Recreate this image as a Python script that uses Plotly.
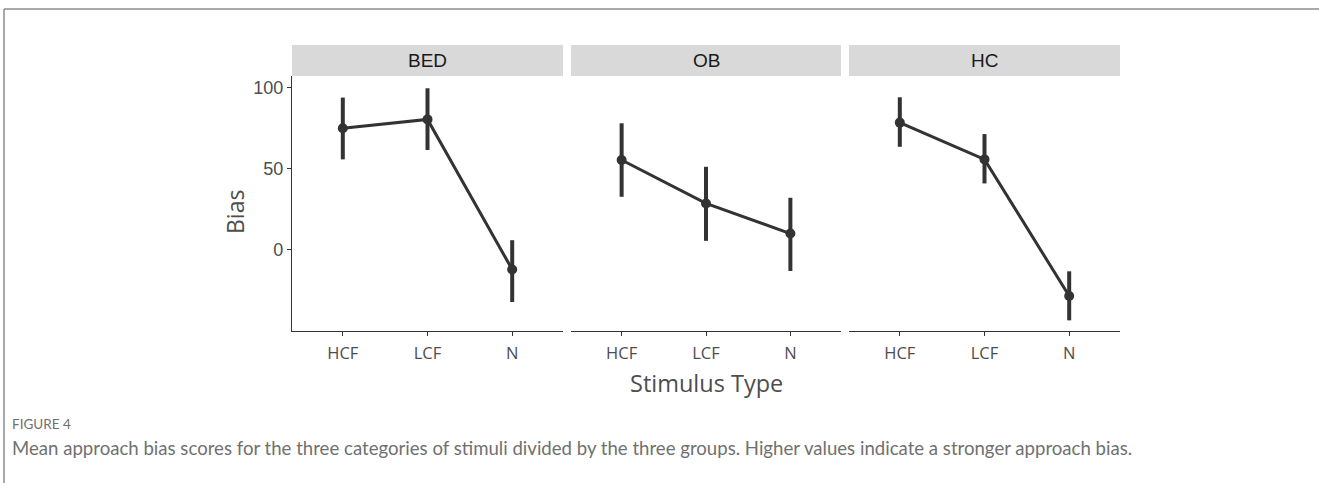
import plotly.graph_objects as go

W, H = 1319, 483

groups = ["BED", "OB", "HC"]
stimuli = ["HCF", "LCF", "N"]
means = {
    "BED": [75.0, 80.5, -12.6],
    "OB": [55.3, 28.4, 9.7],
    "HC": [78.5, 55.7, -29.0],
}
upper = {
    "BED": [94.0, 99.8, 5.6],
    "OB": [78.1, 51.1, 31.9],
    "HC": [94.2, 71.4, -13.7],
}
lower = {
    "BED": [55.7, 61.5, -32.7],
    "OB": [32.5, 5.2, -13.5],
    "HC": [63.5, 40.8, -44.1],
}
y_ticks = [0, 50, 100]

def px_x(p):
    return p / W

def px_y(p):
    return 1 - p / H

panel_px = [(292, 563), (571, 841), (849, 1120)]
plot_top, plot_bot = 76, 331
strip_top = 45

fig = go.Figure()
ink = "#333333"
for i, g in enumerate(groups):
    m = means[g]
    fig.add_trace(go.Scatter(
        x=stimuli, y=m,
        mode="lines+markers",
        line=dict(color=ink, width=3),
        marker=dict(color=ink, size=10),
        error_y=dict(type="data", symmetric=False,
                     array=[u - v for u, v in zip(upper[g], m)],
                     arrayminus=[v - l for v, l in zip(m, lower[g])],
                     color=ink, thickness=4, width=0),
        xaxis="x" if i == 0 else f"x{i+1}",
        yaxis="y" if i == 0 else f"y{i+1}",
        showlegend=False,
    ))

layout = dict(
    width=W, height=H,
    margin=dict(l=0, r=0, t=0, b=0),
    paper_bgcolor="white", plot_bgcolor="white",
    showlegend=False,
)
for i, (a, b) in enumerate(panel_px):
    xk = "xaxis" if i == 0 else f"xaxis{i+1}"
    yk = "yaxis" if i == 0 else f"yaxis{i+1}"
    layout[xk] = dict(
        domain=[px_x(a), px_x(b)],
        anchor="y" if i == 0 else f"y{i+1}",
        type="category", categoryorder="array", categoryarray=stimuli,
        range=[-0.6, 2.6],
        showline=True, linecolor=ink, linewidth=1.3,
        ticks="outside", ticklen=4, tickcolor=ink, tickwidth=1,
        ticklabelstandoff=3,
        showgrid=False, zeroline=False,
        tickfont=dict(family="Open Sans", size=16.5, color="#4d4d4d"),
        fixedrange=True,
    )
    layout[yk] = dict(
        domain=[px_y(plot_bot), px_y(plot_top)],
        anchor="x" if i == 0 else f"x{i+1}",
        range=[-50.7, 107.4],
        tickvals=y_ticks,
        showgrid=False, zeroline=False,
        showline=(i == 0), linecolor=ink, linewidth=1.3,
        ticks="outside" if i == 0 else "", ticklen=4, tickcolor=ink,
        showticklabels=(i == 0),
        tickfont=dict(family="Liberation Sans", size=18, color="#4d4d4d"),
        fixedrange=True,
    )
    if i > 0:
        layout[yk]["matches"] = "y"

fig.update_layout(**layout)

shapes = []
annotations = []
for (a, b), g in zip(panel_px, groups):
    shapes.append(dict(type="rect", xref="paper", yref="paper",
                       x0=px_x(a), x1=px_x(b), y0=px_y(plot_top), y1=px_y(strip_top),
                       fillcolor="#d9d9d9", line=dict(width=0), layer="below"))
    annotations.append(dict(text=g, xref="paper", yref="paper",
                            x=px_x((a + b) / 2), y=px_y((plot_top + strip_top) / 2),
                            showarrow=False, xanchor="center", yanchor="middle",
                            font=dict(family="Liberation Sans", size=19, color="#1a1a1a")))

# frame
shapes.append(dict(type="line", xref="paper", yref="paper",
                   x0=px_x(4), x1=1, y0=px_y(9), y1=px_y(9),
                   line=dict(color="#8c8c8c", width=1.5)))
shapes.append(dict(type="line", xref="paper", yref="paper",
                   x0=px_x(4), x1=px_x(4), y0=px_y(9), y1=0,
                   line=dict(color="#8c8c8c", width=1.5)))

annotations += [
    dict(text="Stimulus Type", xref="paper", yref="paper",
         x=px_x(706), y=px_y(383), showarrow=False, xanchor="center", yanchor="middle",
         font=dict(family="Open Sans", size=23.5, color="#4d4d4d")),
    dict(text="Bias", xref="paper", yref="paper", textangle=-90,
         x=px_x(235), y=px_y(212), showarrow=False, xanchor="center", yanchor="middle",
         font=dict(family="Open Sans", size=23, color="#4d4d4d")),
    dict(text="FIGURE 4", xref="paper", yref="paper",
         x=px_x(10), y=px_y(424), showarrow=False, xanchor="left", yanchor="middle",
         font=dict(family="Lato", size=13.5, color="#707070")),
    dict(text="Mean approach bias scores for the three categories of stimuli divided by the three groups. Higher values indicate a stronger approach bias.",
         xref="paper", yref="paper",
         x=px_x(10), y=px_y(448), showarrow=False, xanchor="left", yanchor="middle",
         font=dict(family="Lato", size=18.6, color="#707070")),
]
fig.update_layout(shapes=shapes, annotations=annotations)

fig.write_html("out.html")
